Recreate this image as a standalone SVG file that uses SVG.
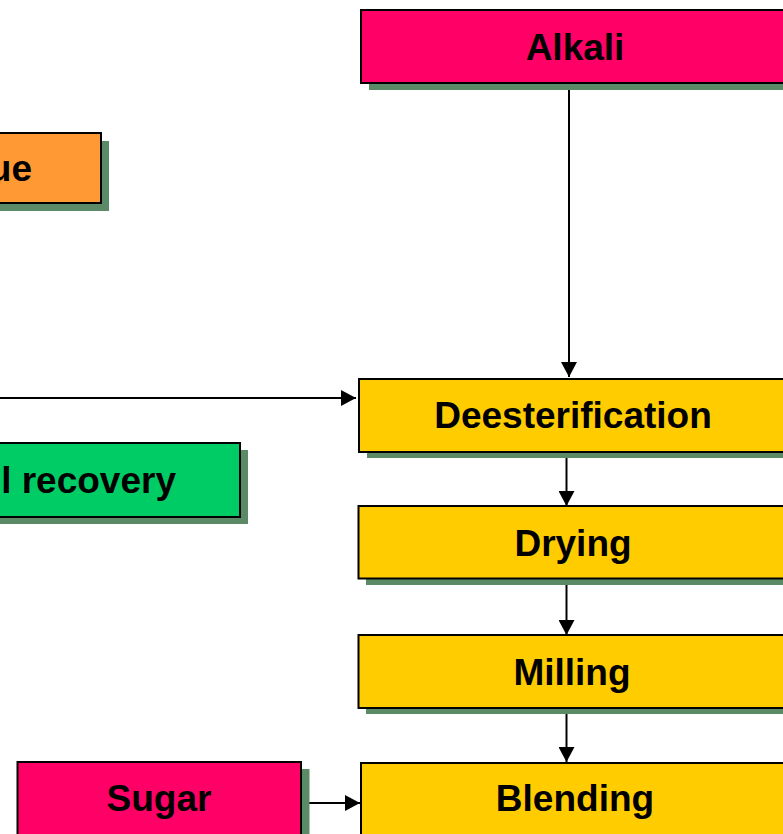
<svg xmlns="http://www.w3.org/2000/svg" width="783" height="834" viewBox="0 0 783 834">
<defs>
<style>
.sh{fill:#5B8A66;}
.bx{stroke:#000;stroke-width:2;}
.pink{fill:#FF0066;}
.orange{fill:#FF9933;}
.green{fill:#00CC66;}
.yellow{fill:#FFCC00;}
.t{font-family:"Liberation Sans",Arial,sans-serif;font-weight:bold;font-size:37px;fill:#000;}
.c{stroke:#000;stroke-width:2;fill:none;marker-end:url(#ah);}
</style>
<marker id="ah" markerWidth="15" markerHeight="16" viewBox="0 0 15 16" refX="15" refY="8" orient="auto" markerUnits="userSpaceOnUse">
<path d="M0,0 L15,8 L0,16 Z" fill="#000"/>
</marker>
</defs>
<rect width="783" height="834" fill="#fff"/>
<g id="connectors">
<line class="c" x1="569" y1="84" x2="569" y2="377"/>
<line class="c" x1="0" y1="398" x2="356" y2="398"/>
<line class="c" x1="566.5" y1="455" x2="566.5" y2="506"/>
<line class="c" x1="566.5" y1="582" x2="566.5" y2="635"/>
<line class="c" x1="566.5" y1="711" x2="566.5" y2="762"/>
<line class="c" x1="301" y1="803" x2="360" y2="803"/>
</g>
<g id="alkali">
<rect class="sh" x="369" y="17" width="430" height="73"/>
<rect class="bx pink" x="361" y="10" width="430" height="73"/>
<text class="t" x="575" y="60" text-anchor="middle">Alkali</text>
</g>
<g id="residue">
<rect class="sh" x="-20" y="141" width="129" height="70"/>
<rect class="bx orange" x="-28" y="133" width="129" height="70"/>
<text class="t" x="32" y="181" text-anchor="end">ue</text>
</g>
<g id="recovery">
<rect class="sh" x="-20" y="450" width="268" height="74"/>
<rect class="bx green" x="-28" y="443" width="268" height="74"/>
<text class="t" x="176" y="493" text-anchor="end">l recovery</text>
</g>
<g id="deesterification">
<rect class="sh" x="367" y="385" width="430" height="73"/>
<rect class="bx yellow" x="359" y="379" width="430" height="73"/>
<text class="t" x="573" y="428" text-anchor="middle">Deesterification</text>
</g>
<g id="drying">
<rect class="sh" x="366" y="512" width="430" height="73"/>
<rect class="bx yellow" x="358.5" y="506" width="430" height="72.5"/>
<text class="t" x="573" y="556" text-anchor="middle">Drying</text>
</g>
<g id="milling">
<rect class="sh" x="366" y="641" width="430" height="73"/>
<rect class="bx yellow" x="358.5" y="635" width="430" height="73"/>
<text class="t" x="572" y="685" text-anchor="middle">Milling</text>
</g>
<g id="sugar">
<rect class="sh" x="25.5" y="769" width="284" height="80"/>
<rect class="bx pink" x="17.5" y="762" width="283.5" height="80"/>
<text class="t" x="159" y="811" text-anchor="middle">Sugar</text>
</g>
<g id="blending">
<rect class="sh" x="369" y="769" width="430" height="80"/>
<rect class="bx yellow" x="361" y="763" width="430" height="80"/>
<text class="t" x="575" y="811" text-anchor="middle">Blending</text>
</g>
</svg>
